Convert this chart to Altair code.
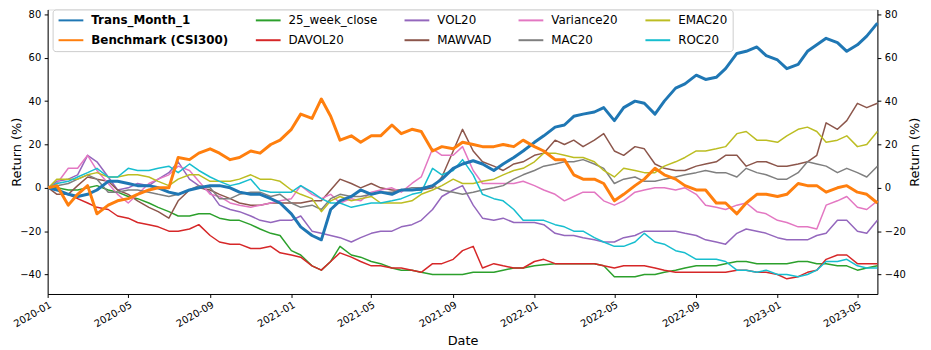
import altair as alt
import pandas as pd

# ---- data (semi-monthly samples) ----
dates = [
    "2020-01-02", "2020-01-15", "2020-02-01", "2020-02-15", "2020-03-01", "2020-03-15",
    "2020-04-01", "2020-04-15", "2020-05-01", "2020-05-15", "2020-06-01", "2020-06-15",
    "2020-07-01", "2020-07-15", "2020-08-01", "2020-08-15", "2020-09-01", "2020-09-15",
    "2020-10-01", "2020-10-15", "2020-11-01", "2020-11-15", "2020-12-01", "2020-12-15",
    "2021-01-01", "2021-01-15", "2021-02-01", "2021-02-15", "2021-03-01", "2021-03-15",
    "2021-04-01", "2021-04-15", "2021-05-01", "2021-05-15", "2021-06-01", "2021-06-15",
    "2021-07-01", "2021-07-15", "2021-08-01", "2021-08-15", "2021-09-01", "2021-09-15",
    "2021-10-01", "2021-10-15", "2021-11-01", "2021-11-15", "2021-12-01", "2021-12-15",
    "2022-01-01", "2022-01-15", "2022-02-01", "2022-02-15", "2022-03-01", "2022-03-15",
    "2022-04-01", "2022-04-15", "2022-05-01", "2022-05-15", "2022-06-01", "2022-06-15",
    "2022-07-01", "2022-07-15", "2022-08-01", "2022-08-15", "2022-09-01", "2022-09-15",
    "2022-10-01", "2022-10-15", "2022-11-01", "2022-11-15", "2022-12-01", "2022-12-15",
    "2023-01-01", "2023-01-15", "2023-02-01", "2023-02-15", "2023-03-01", "2023-03-15",
    "2023-04-01", "2023-04-15", "2023-05-01", "2023-05-15", "2023-05-31",
]

trans_month_1 = [
    0, -1, -3, -4, -3, -1, 3, 3, 2, 1, 1, 0,
    -2, -3, -1, 0, 1, 1, 0, -2, -3, -3, -5, -7,
    -12, -18, -22, -24, -10, -6, -4, -1, -3, -2, -3, -1,
    -1, -0.5, 1, 4, 9, 11, 12.5, 11, 8, 11, 14, 17,
    21, 24, 28, 29, 33, 34, 35, 37, 31, 37, 40, 39,
    34, 40, 46, 48, 52, 50, 51, 55, 62, 63, 65, 61,
    59, 55, 57, 63, 66, 69, 67, 63, 66, 70, 76,
]
benchmark = [
    0, 1, -8, -3, 1, -12, -8, -6, -5, -3, -1, 0,
    0, 14, 13, 16, 18, 16, 13, 14, 17, 16, 20, 22,
    27, 34, 32, 41, 33, 22, 24, 21, 24, 24, 29, 25,
    27, 26, 17, 19, 18, 21, 20, 19, 19, 20, 19, 22,
    19, 17, 13, 13, 6, 4, 4, 2, -6, -3, 1, 4,
    9, 6, 4, 1, -1, -1, -7, -7, -12, -7, -3, -3,
    -4, -3, 2, 1, 1, -2, 0, 1, -2, -3, -7,
]
week25_close = [
    0, 0, -1, -1, 0, 1, -1, -2, -4, -5, -7, -9,
    -11, -13, -13, -12, -12, -14, -15, -15, -17, -19, -21, -22,
    -29, -31, -36, -38, -34, -27, -31, -32, -34, -35, -37, -38,
    -38, -39, -40, -40, -40, -40, -39, -39, -39, -38, -37, -37,
    -36, -35.5, -35, -35, -35, -35, -35, -36, -41, -41, -41, -40,
    -40, -39, -38, -37, -36, -36, -36, -35, -34, -34, -35, -35,
    -35, -35, -34, -34, -35, -35, -36, -36, -38, -37, -36,
]
davol20 = [
    0, -1, -3, -5, -7, -9, -10, -13, -14, -16, -17, -18,
    -20, -20, -19, -17, -22, -25, -26, -26, -28, -28, -27, -30,
    -31, -32, -36, -38, -34, -30, -32, -34, -36, -36, -37, -37,
    -38, -39, -35, -35, -33, -29, -27, -37, -35, -36, -37, -37,
    -34, -33, -35, -35, -35, -35, -35, -36, -37, -36, -36, -36,
    -37, -38, -39, -39, -39, -39, -39, -39, -38, -38, -39, -39,
    -40, -42, -41, -39, -38, -33, -31, -31, -35, -35, -35,
]
vol20 = [
    0, 3, 4, 6, 15, 12, 5, -1, 0, 2, 1, 4,
    7, 12, 4, 1, -2, -8, -10, -11, -13, -15, -16, -15,
    -15, -13, -20, -21, -22, -23, -25, -23, -21, -20, -20, -18,
    -17, -15, -10, -4, -1, 1, -8, -14, -15, -14, -16, -16,
    -16, -17, -21, -22, -22, -23, -24, -25, -25, -23, -22, -20,
    -20, -20, -20, -21, -22, -24, -25, -26, -21, -19, -20, -21,
    -23, -24, -24, -24, -22, -21, -15, -15, -20, -21, -15,
]
mawvad = [
    0, -3, -3, 1, 5, 4, 3, -1, -3, -6, -9, -11,
    -14, -6, -1, 0, -1, -3, -5, -7, -8, -8, -7, -7,
    -7, -7, -6, -6, -1, 4, 2, 0, 2, 0, -1, -1,
    -1, -1, 0, 5, 17, 27, 17, 12, 10, 8, 11, 12,
    15, 16, 22, 20, 22, 19, 22, 25, 17, 15, 19, 18,
    11, 9, 8, 8, 10, 11, 12, 15, 15, 10, 12, 12,
    10, 10, 11, 12, 15, 30, 27, 31, 39, 37, 39,
]
variance20 = [
    0, 2, 9, 9, 15, 8, 2, -3, -7, -3, 2, 4,
    6, 10, 8, 3, -3, -4, -7, -8, -9, -8, -7, -6,
    -5, 1, -3, -5, -3, -7, -5, -6, -2, -1, 0, -2,
    2, 5, 18, 15, 15, 19, 8, 2, 2, 2, 2, 3,
    1, -1, -3, -6, -4, -2, -2, -6, -8, -6, -2, -1,
    0, 0, -1, 0, -3, -8, -9, -10, -8, -7, -11, -12,
    -15, -16, -18, -18, -19, -8, -6, -4, -9, -10, -6,
]
mac20 = [
    0, 1, 2, 4, 6, 4, -2, -2, -1, -1, -2, -3,
    -4, -3, -1, 1, 0, -5, -5, -3, -2, -2, -4, -3,
    -7, -9, -8, -10, -5, -3, -4, -4, -3, -2, -2, -1,
    0, 0, 1, -1, -2, -3, -2, -1, 0, 1, 4, 6,
    8, 10, 11, 12, 12, 13, 11, 9, 2, 4, 5, 3,
    3, 4, 5, 6, 7, 8, 7, 7, 5, 9, 7, 6,
    4, 4, 7, 12, 11, 10, 7, 9, 7, 5, 10,
]
emac20 = [
    0, 4, 4, 4, 6, 7, 5, 5, 6, 6, 5, 3,
    1, 4, 6, 6, 3, 3, 3, 4, 6, 4, 4, 3,
    -1, -3, -5, -11, -6, -4, -6, -5, -4, -7, -7, -7,
    -6, -3, -1, 1, 4, 2, 2, 3, 4, 6, 8, 9,
    12, 16, 16, 15, 14, 14, 12, 8, 5, 9, 8, 7,
    7, 10, 12, 14, 17, 17, 18, 19, 25, 26, 22, 22,
    21, 24, 27, 28, 26, 21, 22, 24, 19, 20, 26,
]
roc20 = [
    0, 2, 3, 5, 7, 9, 5, 5, 9, 8, 8, 9,
    10, 7, 11, 8, 5, 3, 1, 2, 4, -1, -2, -2,
    -2, 1, -2, -5, -7, -7, -9, -8, -7, -7, -6, -5,
    -3, -2, 9, 6, 8, 13, 6, -3, -5, -6, -10, -15,
    -15, -15, -17, -18, -20, -20, -23, -25, -27, -27, -25, -21,
    -25, -26, -29, -30, -33, -33, -33, -34, -38, -38, -39, -38,
    -40, -40, -41, -40, -38, -34, -34, -33, -36, -37, -37,
]

series = {
    "Trans_Month_1": trans_month_1,
    "Benchmark (CSI300)": benchmark,
    "25_week_close": week25_close,
    "DAVOL20": davol20,
    "VOL20": vol20,
    "MAWVAD": mawvad,
    "Variance20": variance20,
    "MAC20": mac20,
    "EMAC20": emac20,
    "ROC20": roc20,
}
colors = {
    "Trans_Month_1": "#1f77b4",
    "Benchmark (CSI300)": "#ff7f0e",
    "25_week_close": "#2ca02c",
    "DAVOL20": "#d62728",
    "VOL20": "#9467bd",
    "MAWVAD": "#8c564b",
    "Variance20": "#e377c2",
    "MAC20": "#7f7f7f",
    "EMAC20": "#bcbd22",
    "ROC20": "#17becf",
}
# legend fills column by column (two rows, five columns)
legend_order = list(series.keys())
thin_names = ["25_week_close", "DAVOL20", "VOL20", "MAWVAD", "Variance20",
              "MAC20", "EMAC20", "ROC20"]
y_ticks = [-40, -20, 0, 20, 40, 60, 80]
x_tick_months = [(2020, 1), (2020, 5), (2020, 9), (2021, 1), (2021, 5), (2021, 9),
                 (2022, 1), (2022, 5), (2022, 9), (2023, 1), (2023, 5)]

rows = []
for name, vals in series.items():
    for d, v in zip(dates, vals):
        rows.append({"date": d, "value": v, "series": name})
df = pd.DataFrame(rows)

FONT = "DejaVu Sans"

x_enc = alt.X(
    "date:T",
    scale=alt.Scale(type="utc",
                    domain=[alt.DateTime(year=2020, month=1, date=1, utc=True),
                            alt.DateTime(year=2023, month=5, date=31, utc=True)]),
    axis=alt.Axis(
        values=[alt.DateTime(year=y, month=m, date=1, utc=True) for y, m in x_tick_months],
        format="%Y-%m", labelAngle=330, labelAlign="right", labelBaseline="top",
        labelFontSize=10, labelFont=FONT, labelColor="black",
        tickSize=3.5, labelPadding=2, tickColor="black", domainColor="black",
        grid=False, labelFlush=False, labelOverlap=False,
        title="Date", titleFont=FONT, titleFontSize=13, titleFontWeight="normal",
        titleColor="black", titlePadding=6,
    ),
)

y_scale = alt.Scale(domain=[-49, 82.3], nice=False, zero=False)
left_axis = alt.Axis(
    values=y_ticks, format="d", labelFontSize=10, labelFont=FONT, labelColor="black",
    tickSize=3.5, labelPadding=3.5, tickColor="black", domainColor="black", grid=False,
    title="Return (%)", titleFont=FONT, titleFontSize=13, titleFontWeight="normal",
    titleColor="black", titlePadding=-4,
)
right_axis = alt.Axis(
    orient="right", values=y_ticks, format="d", labelFontSize=10, labelFont=FONT,
    labelColor="black", tickSize=3.5, labelPadding=3.5, tickColor="black",
    domainColor="black", grid=False,
    title="Return (%)", titleFont=FONT, titleFontSize=13, titleFontWeight="normal",
    titleColor="black", titleAngle=270, titleBaseline="top", titlePadding=3,
)

color_enc = alt.Color(
    "series:N",
    scale=alt.Scale(domain=legend_order, range=[colors[s] for s in legend_order]),
    legend=alt.Legend(
        title=None, orient="none", legendX=5, legendY=0, columns=5,
        symbolType="M-1,0H4", symbolSize=100, symbolStrokeWidth=2,
        labelFontSize=12, labelFont=FONT, labelColor="black",
        labelFontWeight=alt.ExprRef(
            expr="(datum.label == 'Trans_Month_1' || datum.label == 'Benchmark (CSI300)') ? 'bold' : 'normal'"),
        labelOffset=22, labelLimit=300, columnPadding=23, rowPadding=8, padding=5,
        fillColor="white", strokeColor="#cccccc", cornerRadius=3,
    ),
)

base = alt.Chart(df)

thin = base.transform_filter(
    alt.FieldOneOfPredicate(field="series", oneOf=thin_names)
).mark_line(strokeWidth=1.5, strokeJoin="round").encode(
    x=x_enc, y=alt.Y("value:Q", scale=y_scale, axis=left_axis), color=color_enc
)

blue = base.transform_filter(
    alt.datum.series == "Trans_Month_1"
).mark_line(strokeWidth=3, strokeJoin="round").encode(
    x=x_enc, y=alt.Y("value:Q", scale=y_scale, axis=None), color=color_enc
)

orange = base.transform_filter(
    alt.datum.series == "Benchmark (CSI300)"
).mark_line(strokeWidth=3, strokeJoin="round").encode(
    x=x_enc, y=alt.Y("value:Q", scale=y_scale, axis=right_axis), color=color_enc
)

chart = alt.layer(thin, blue, orange).resolve_axis(y="independent").properties(
    width=837, height=287,
    autosize=alt.AutoSizeParams(type="none"),
    padding={"left": 40, "top": 0, "right": 46, "bottom": 55},
).configure_view(stroke="black", strokeWidth=1).configure(font=FONT)

chart.save("out.html", embed_options={"renderer": "svg", "actions": False})
